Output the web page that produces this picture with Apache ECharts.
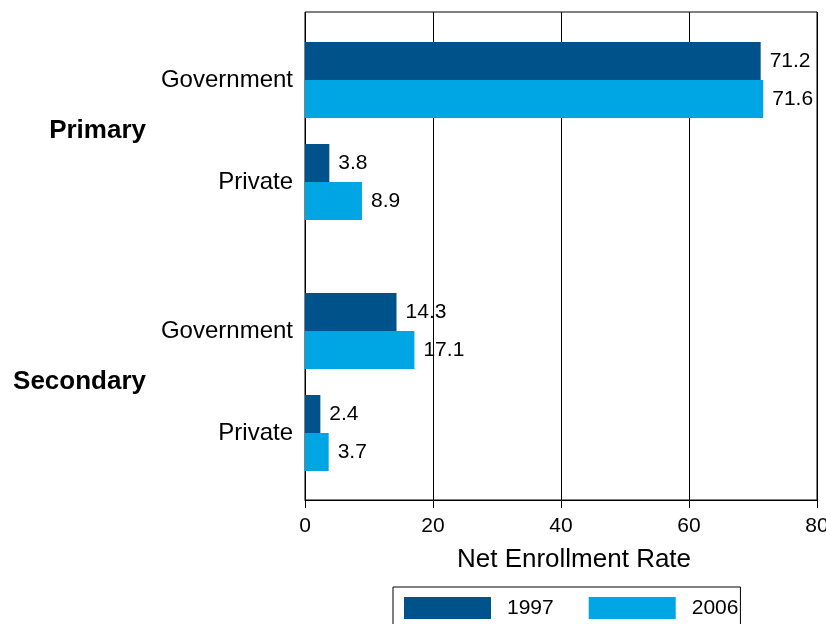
<!DOCTYPE html>
<html>
<head>
<meta charset="utf-8">
<script src="https://cdn.jsdelivr.net/npm/echarts@6/dist/echarts.min.js"></script>
<style>
  html, body { margin: 0; padding: 0; background: #fff; }
  #chart { width: 826px; height: 624px; }
</style>
</head>
<body>
<div id="chart"></div>
<script>
// data
var categories = ['Government', 'Private'];
var levels = ['Primary', 'Secondary'];
var years = ['1997', '2006'];
var primary1997 = [71.2, 3.8];
var primary2006 = [71.6, 8.9];
var secondary1997 = [14.3, 2.4];
var secondary2006 = [17.1, 3.7];
var xTicks = { min: 0, max: 80, interval: 20 };

var dark = '#00538a';
var light = '#00a5e3';
var font = '"Liberation Sans", Arial, sans-serif';

var chart = echarts.init(document.getElementById('chart'));

function barLabel() {
    return { show: true, position: 'right', distance: 9, color: '#000', fontSize: 21, fontFamily: font };
}

function hiddenX(idx) {
    return { type: 'value', gridIndex: idx, min: xTicks.min, max: xTicks.max, show: false };
}

function catY(idx) {
    return {
        type: 'category', gridIndex: idx, data: categories, inverse: true,
        axisLine: { show: false }, axisTick: { show: false }, splitLine: { show: false },
        axisLabel: { color: '#000', fontSize: 24, fontFamily: font, margin: 12 }
    };
}

function levelY(idx, name) {
    return {
        type: 'category', gridIndex: idx, data: [name], position: 'left', offset: 151,
        axisLine: { show: false }, axisTick: { show: false }, splitLine: { show: false },
        axisLabel: { color: '#000', fontSize: 26, fontWeight: 'bold', fontFamily: font, margin: 8 }
    };
}

var option = {
    backgroundColor: '#fff',
    animation: false,
    textStyle: { fontFamily: font },
    legend: {
        data: years,
        left: 393, top: 587,
        orient: 'horizontal',
        icon: 'rect',
        itemWidth: 87, itemHeight: 22, itemGap: 35,
        padding: [10, 2, 10, 11],
        borderColor: '#000', borderWidth: 1,
        textStyle: { color: '#000', fontSize: 21, fontFamily: font, padding: [0, 0, 0, 11] }
    },
    grid: [
        { left: 305, right: 9, top: 12, bottom: 124, outerBoundsMode: 'none', show: true, borderColor: '#000', borderWidth: 1, backgroundColor: 'transparent' },
        { left: 305, right: 9, top: 29, height: 204, outerBoundsMode: 'none' },
        { left: 305, right: 9, top: 280, height: 204, outerBoundsMode: 'none' }
    ],
    xAxis: [
        {
            type: 'value', gridIndex: 0, min: xTicks.min, max: xTicks.max, interval: xTicks.interval,
            axisLine: { show: true, lineStyle: { color: '#000' } },
            axisTick: { show: true, length: 8, lineStyle: { color: '#000' } },
            splitLine: { show: true, lineStyle: { color: '#000', width: 1 } },
            axisLabel: { color: '#000', fontSize: 21, fontFamily: font, margin: 16 },
            name: 'Net Enrollment Rate', nameLocation: 'middle', nameGap: 47,
            nameTextStyle: { color: '#000', fontSize: 26, fontFamily: font, padding: [0, 0, 0, 26] }
        },
        hiddenX(1),
        hiddenX(2)
    ],
    yAxis: [
        { type: 'category', gridIndex: 0, data: [''], show: false },
        catY(1),
        catY(2),
        levelY(1, levels[0]),
        levelY(2, levels[1])
    ],
    series: [
        { name: years[0], type: 'bar', xAxisIndex: 1, yAxisIndex: 1, data: primary1997, barWidth: 38, barGap: '0%', itemStyle: { color: dark }, label: barLabel() },
        { name: years[1], type: 'bar', xAxisIndex: 1, yAxisIndex: 1, data: primary2006, barWidth: 38, barGap: '0%', itemStyle: { color: light }, label: barLabel() },
        { name: years[0], type: 'bar', xAxisIndex: 2, yAxisIndex: 2, data: secondary1997, barWidth: 38, barGap: '0%', itemStyle: { color: dark }, label: barLabel() },
        { name: years[1], type: 'bar', xAxisIndex: 2, yAxisIndex: 2, data: secondary2006, barWidth: 38, barGap: '0%', itemStyle: { color: light }, label: barLabel() }
    ]
};

chart.setOption(option);
</script>
</body>
</html>
